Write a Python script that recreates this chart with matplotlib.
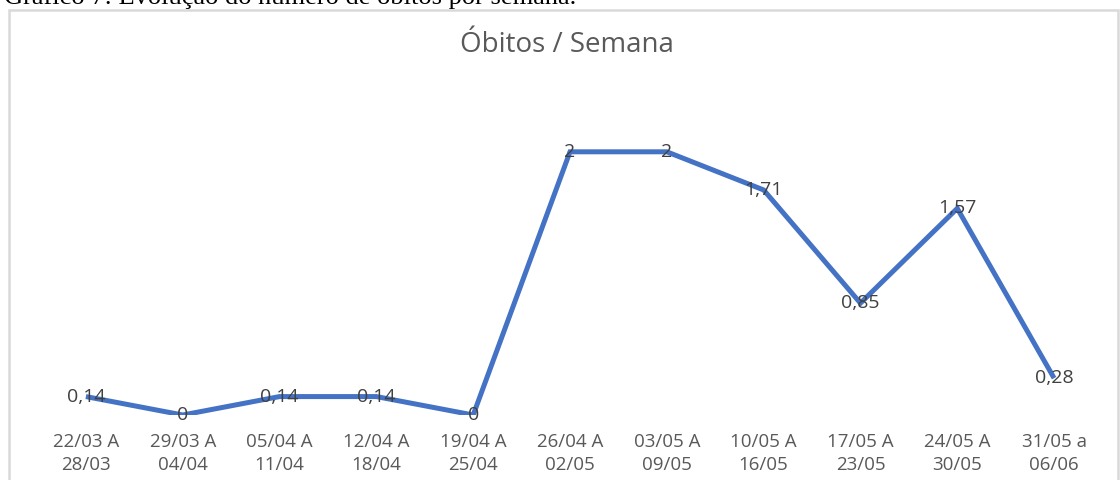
import matplotlib
matplotlib.use("Agg")
import matplotlib.pyplot as plt
import matplotlib.patches as mpatches

# ── Data ──
semanas = ["22/03 A\n28/03", "29/03 A\n04/04", "05/04 A\n11/04", "12/04 A\n18/04",
           "19/04 A\n25/04", "26/04 A\n02/05", "03/05 A\n09/05", "10/05 A\n16/05",
           "17/05 A\n23/05", "24/05 A\n30/05", "31/05 a\n06/06"]
obitos = [0.14, 0, 0.14, 0.14, 0, 2, 2, 1.71, 0.85, 1.57, 0.28]
rotulos = ["0,14", "0", "0,14", "0,14", "0", "2", "2", "1,71", "0,85", "1,57", "0,28"]

LINE_COLOR = "#4472C4"
TEXT_GRAY = "#595959"
LABEL_DARK = "#404040"
BORDER = "#D9D9D9"

plt.rcParams["font.family"] = ["Open Sans", "DejaVu Sans"]

fig = plt.figure(figsize=(11.2, 4.8), dpi=100)
fig.patch.set_facecolor("white")

# chart frame (Excel chart border)
frame = mpatches.Rectangle((8.5 / 1120, -0.05), (1118 - 8.5) / 1120, 1.05 - 9.5 / 480,
                           transform=fig.transFigure, fill=False,
                           edgecolor=BORDER, linewidth=1.8)
fig.patches.append(frame)

# caption above the chart, cut by the top edge (as in the source page)
fig.text(4 / 1120, 1 - 4 / 480, "Gráfico 7: Evolução do número de óbitos por semana.",
         family="Liberation Serif", fontsize=19, color="black",
         ha="left", va="baseline")

ax = fig.add_axes([37.5 / 1120, 65 / 480, 1065 / 1120, 329 / 480])
x = range(len(obitos))
ax.plot(x, obitos, color=LINE_COLOR, linewidth=3.6, solid_joinstyle="miter",
        solid_capstyle="butt", zorder=2)

for xi, yi, lab in zip(x, obitos, rotulos):
    ax.text(xi, yi, lab, ha="center", va="center", fontsize=14,
            color=LABEL_DARK, zorder=3)

ax.set_xlim(-0.5, len(obitos) - 0.5)
ax.set_ylim(0, 2.5)
ax.set_xticks(list(x))
ax.set_xticklabels(semanas, fontsize=13.5, color=TEXT_GRAY, linespacing=1.35)
ax.set_yticks([])
ax.tick_params(axis="x", length=0, pad=13)
for spine in ax.spines.values():
    spine.set_visible(False)

fig.text(567 / 1120, 1 - 45 / 480, "Óbitos / Semana", ha="center", va="center",
         fontsize=20, color=TEXT_GRAY)

fig.savefig("out.png", dpi=100, facecolor=fig.get_facecolor())
